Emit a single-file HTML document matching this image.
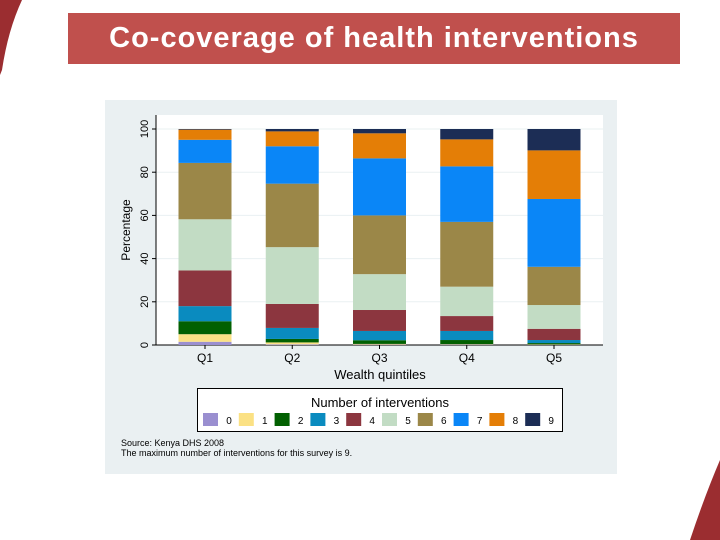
<!DOCTYPE html>
<html><head><meta charset="utf-8"><style>
body{margin:0;width:720px;height:540px;overflow:hidden;background:#fff;font-family:"Liberation Sans",sans-serif;position:relative}
#title{position:absolute;left:68px;top:13px;width:612px;height:51px;background:#c0504d;color:#fff;font-size:29px;font-weight:bold;letter-spacing:1px;text-align:center;line-height:51px;font-family:"Liberation Sans",sans-serif}
svg{position:absolute;left:0;top:0}
</style></head><body>
<svg width="720" height="540">
<path d="M0,0 L22,0 Q8,30 2,70 L0,75 Z" fill="#9b2d30"/>
<path d="M720,460 L720,540 L690,540 Q705,495 720,460 Z" fill="#9b2d30"/>
</svg>
<div id="title">Co-coverage of health interventions</div>
<svg id="chart" width="720" height="540"></svg>
<script>
const categories=["Q1","Q2","Q3","Q4","Q5"];
const seriesLabels=["0","1","2","3","4","5","6","7","8","9"];
const colors=["#9a8fd0","#fbe184","#026001","#0a8bbf","#8c363f","#c2dcc4","#9b8748","#0a86f7","#e47e06","#1c2d55"];
const s0=[1.5,0.3,0.2,0.2,0.1];
const s1=[3.5,0.9,0.3,0.2,0.2];
const s2=[6,1.6,1.7,1.9,0.6];
const s3=[7,5.1,4.3,4.2,1.4];
const s4=[16.5,11.1,9.7,6.9,5.2];
const s5=[23.7,26.3,16.6,13.6,11];
const s6=[26.1,29.4,27.2,30,17.7];
const s7=[10.7,17.3,26.4,25.7,31.4];
const s8=[4.7,6.9,11.6,12.5,22.5];
const s9=[0.3,1.1,2,4.8,9.9];
const series=[s0,s1,s2,s3,s4,s5,s6,s7,s8,s9];
const yTicks=[0,20,40,60,80,100];
const NS="http://www.w3.org/2000/svg";
const svg=document.getElementById('chart');
function mk(t,a,p){const e=document.createElementNS(NS,t);for(const k in a)e.setAttribute(k,a[k]);(p||svg).appendChild(e);return e;}
const X0=156,X1=603,Y0=345,Y100=129;
const y=v=>Y0-(v/100)*(Y0-Y100);
const x=i=>205+87.25*i;
const bw=53;
let bg=mk('rect',{x:105,y:100,width:512,height:374,fill:'#eaf0f2'});


let pa=mk('rect',{x:X0,y:115,width:X1-X0,height:Y0-115,fill:'#fff'});


yTicks.forEach(t=>{
  if(t>0){let g=mk('line',{x1:X0,x2:X1,y1:y(t),y2:y(t),stroke:'#eaf0f2','stroke-width':1});
  
  }
  mk('line',{x1:X0-4,x2:X0,y1:y(t),y2:y(t),stroke:'#000'});
  let tl=mk('text',{x:0,y:0,transform:`translate(${X0-8},${y(t)}) rotate(-90)`,'text-anchor':'middle','font-size':11,fill:'#000'});
  tl.textContent=t;
  
  
});
mk('line',{x1:X0,x2:X0,y1:115,y2:Y0,stroke:'#000'});
mk('line',{x1:X0,x2:X1,y1:Y0,y2:Y0,stroke:'#000'});
let yt=mk('text',{transform:`translate(130,230) rotate(-90)`,'text-anchor':'middle','font-size':12});
yt.textContent='Percentage';


categories.forEach((c,i)=>{
  let cum=0;
  series.forEach((s,k)=>{
    const v=s[i];
    let r=mk('rect',{x:x(i)-bw/2,y:y(cum+v),width:bw,height:y(cum)-y(cum+v),fill:colors[k]});
    
    
    cum+=v;
  });
  mk('line',{x1:x(i),x2:x(i),y1:Y0,y2:Y0+4,stroke:'#000'});
  let t=mk('text',{x:x(i),y:Y0+17,'text-anchor':'middle','font-size':12});
  t.textContent=c;
  
  
});
let xt=mk('text',{x:380,y:379,'text-anchor':'middle','font-size':13});
xt.textContent='Wealth quintiles';


let lg=mk('rect',{x:197.5,y:388.5,width:365,height:43,fill:'#fff',stroke:'#000'});


let lt=mk('text',{x:380,y:407,'text-anchor':'middle','font-size':13});
lt.textContent='Number of interventions';


seriesLabels.forEach((l,k)=>{
  const lx=203+k*35.8;
  let sw=mk('rect',{x:lx,y:413,width:15,height:13,fill:colors[k]});
  
  
  let tx=mk('text',{x:lx+26,y:424,'text-anchor':'middle','font-size':10});
  tx.textContent=l;
  
  
});
let n1=mk('text',{x:121,y:446,'font-size':9});
n1.textContent='Source: Kenya DHS 2008';


let n2=mk('text',{x:121,y:456,'font-size':9});
n2.textContent='The maximum number of interventions for this survey is 9.';


</script>
</body></html>
